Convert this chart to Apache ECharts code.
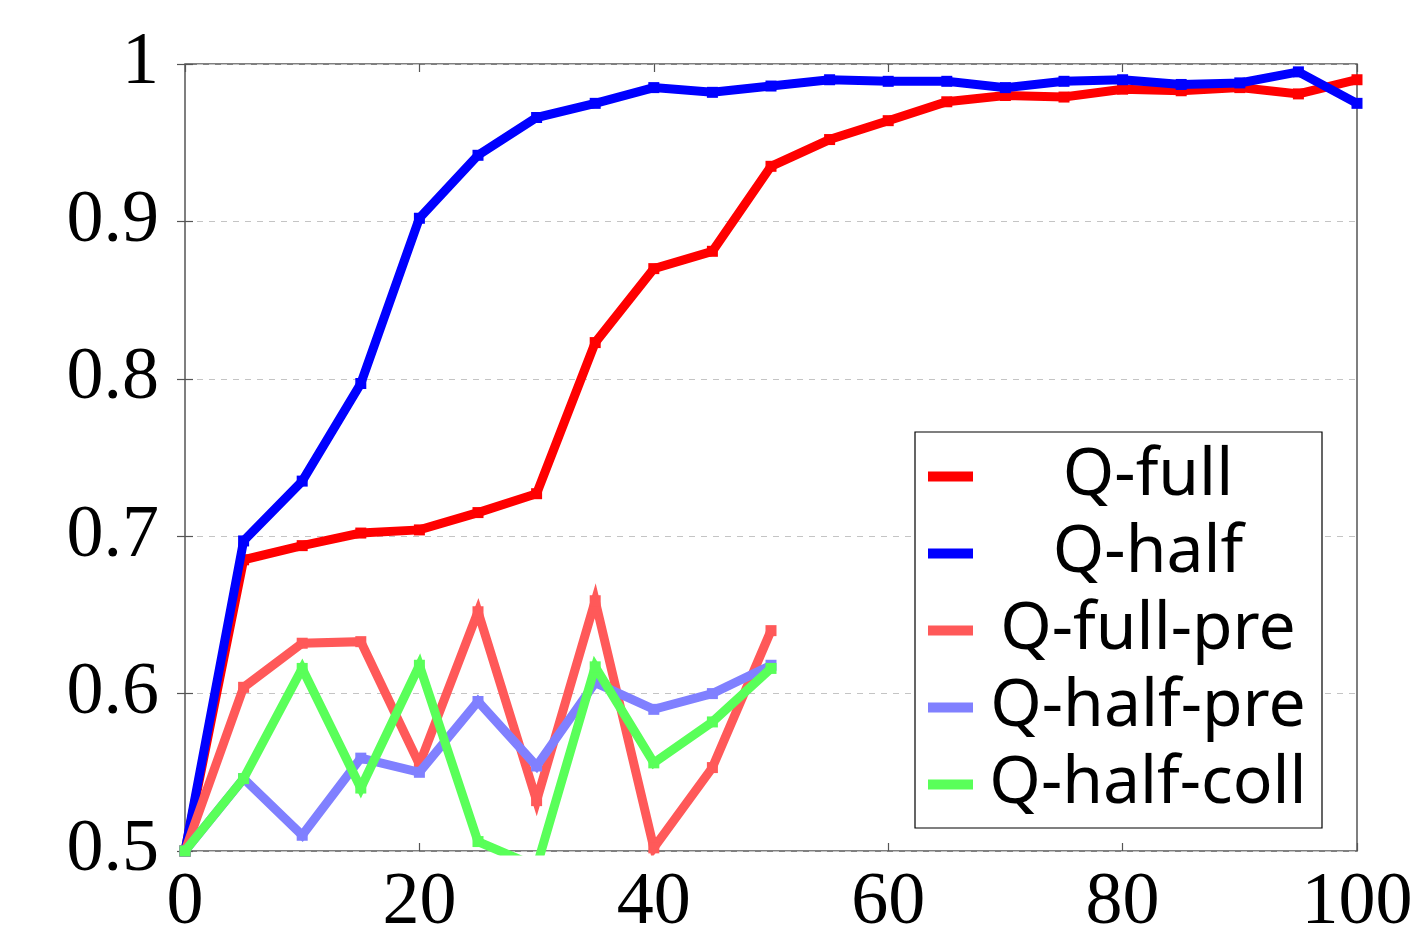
<!DOCTYPE html>
<html>
<head>
<meta charset="utf-8">
<script src="https://cdn.jsdelivr.net/npm/echarts@6/dist/echarts.min.js"></script>
<style>html,body{margin:0;padding:0;background:#fff}#c{width:1413px;height:933px}</style>
</head>
<body>
<div id="c"></div>
<script>
const xs = [0,5,10,15,20,25,30,35,40,45,50,55,60,65,70,75,80,85,90,95,100];
const xsShort = [0,5,10,15,20,25,30,35,40,45,50];
const seriesNames = ['Q-full','Q-half','Q-full-pre','Q-half-pre','Q-half-coll'];
const qFull = [0.5,0.685,0.694,0.702,0.704,0.715,0.727,0.823,0.870,0.881,0.935,0.952,0.964,0.976,0.980,0.979,0.984,0.983,0.985,0.981,0.990];
const qHalf = [0.5,0.697,0.735,0.797,0.902,0.942,0.966,0.975,0.985,0.982,0.986,0.990,0.989,0.989,0.985,0.989,0.990,0.987,0.988,0.995,0.975];
const qFullPre = [0.5,0.604,0.632,0.633,0.555,0.652,0.532,0.659,0.502,0.553,0.640];
const qHalfPre = [0.5,0.546,0.510,0.559,0.550,0.595,0.554,0.607,0.590,0.600,0.618];
const qHalfColl = [0.5,0.546,0.616,0.540,0.618,0.506,0.490,0.617,0.556,0.582,0.616];
const colors = ['#ff0000','#0000ff','#ff5959','#8080ff','#59ff59'];
const yTicks = [0.5,0.6,0.7,0.8,0.9,1];
const xTicks = [0,20,40,60,80,100];

const chart = echarts.init(document.getElementById('c'));
const pair = (x, y) => x.map((v, i) => [v, y[i]]);
const dataSets = [pair(xs,qFull), pair(xs,qHalf), pair(xsShort,qFullPre), pair(xsShort,qHalfPre), pair(xsShort,qHalfColl)];
const serif = 'Liberation Serif';
chart.setOption({
  animation: false,
  grid: {left:185, right:56, top:64, bottom:82, outerBoundsMode:'none', containLabel:false,
    show:true, borderColor:'#555', borderWidth:1.5, backgroundColor:'transparent'},
  xAxis: [{
    type:'value', min:0, max:100, interval:20,
    axisLine:{show:false}, axisTick:{show:true, inside:true, length:8, lineStyle:{color:'#555', width:1.2}},
    axisLabel:{fontFamily:serif, fontSize:74, color:'#000', margin:16},
    splitLine:{show:false}
  },{
    type:'value', position:'top', min:0, max:100, interval:20,
    axisLine:{show:false}, axisTick:{show:true, inside:true, length:8, lineStyle:{color:'#555', width:1.2}},
    axisLabel:{show:false}, splitLine:{show:false}
  }],
  yAxis: [{
    type:'value', min:0.5, max:1, interval:0.1,
    axisLine:{show:false}, axisTick:{show:true, inside:true, length:8, lineStyle:{color:'#555', width:1.2}},
    axisLabel:{fontFamily:serif, fontSize:74, color:'#000', margin:26,
      formatter: v => Math.abs(v-1)<1e-9 ? '1' : v.toFixed(1)},
    splitLine:{show:true, lineStyle:{color:'#c4c4c4', type:[6,6], width:1}}
  },{
    type:'value', position:'right', min:0.5, max:1, interval:0.1,
    axisLine:{show:false}, axisTick:{show:true, inside:true, length:8, lineStyle:{color:'#555', width:1.2}},
    axisLabel:{show:false}, splitLine:{show:false}
  }],
  legend: {
    orient:'vertical', right:91, top:432, icon:'rect', itemWidth:45, itemHeight:10, itemGap:0,
    padding:[6,4,5,13], borderColor:'#000', borderWidth:1.2, backgroundColor:'#fff', borderRadius:0,
    selectedMode:false, data: seriesNames,
    formatter: n => '{a|' + n + '}',
    textStyle:{ rich:{ a:{ fontFamily:'Noto Sans', fontSize:66, color:'#000', width:340, align:'center', lineHeight:77, height:77 } } }
  },
  series: seriesNames.map((n, i) => ({
    name:n, type:'line', data:dataSets[i], xAxisIndex:0, yAxisIndex:0,
    color:colors[i], symbol:'rect', symbolSize:11, showSymbol:true,
    lineStyle:{width:9, color:colors[i], join:'miter'}, itemStyle:{color:colors[i]},
    clip:true, z: 2+i
  }))
});
</script>
</body>
</html>
